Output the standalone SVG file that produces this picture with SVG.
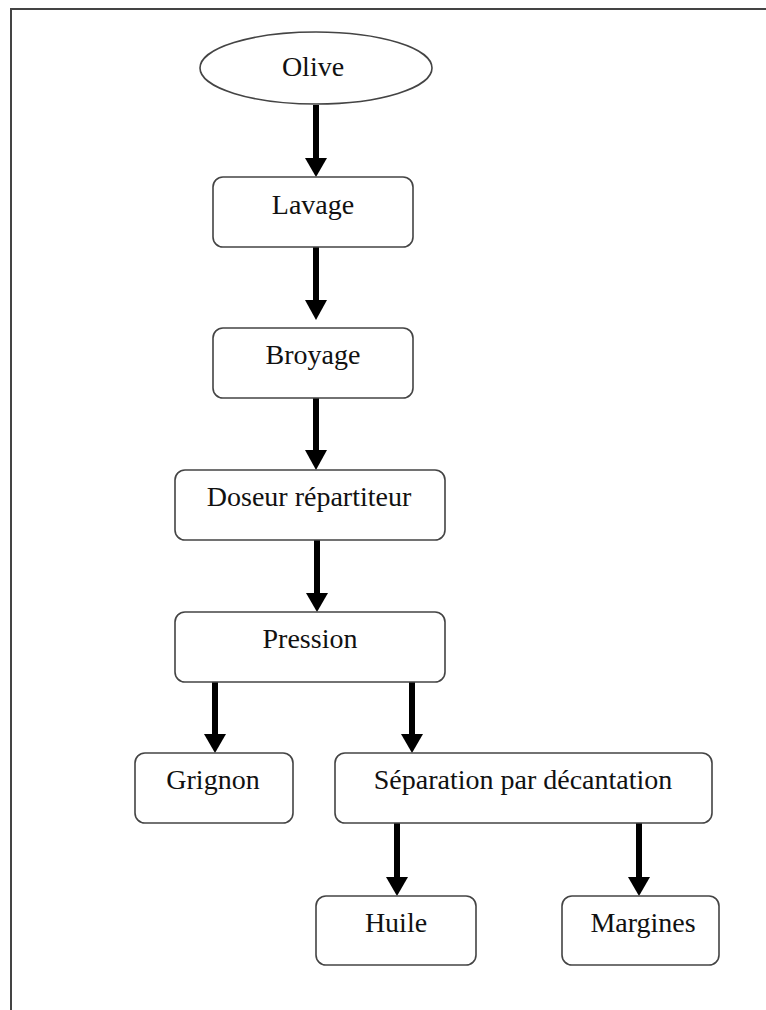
<svg xmlns="http://www.w3.org/2000/svg" width="766" height="1010" viewBox="0 0 766 1010">
<style>
.box{fill:#fff;stroke:#444;stroke-width:1.6}
.t{font-family:"Liberation Serif","Times New Roman",serif;font-size:28px;fill:#111;text-anchor:middle}
.c{stroke:#000;stroke-width:6;fill:none}
.h{fill:#000}
.frame{stroke:#444;stroke-width:2;fill:none}
</style>
<rect width="766" height="1010" fill="#fff"/>
<path class="frame" d="M11 1010 V9 H766"/>
<g id="connectors">
<line class="c" x1="316" y1="105" x2="316" y2="158"/><path class="h" d="M305 158 H327 L316 177 Z"/>
<line class="c" x1="316" y1="247" x2="316" y2="300"/><path class="h" d="M305 300 H327 L316 320 Z"/>
<line class="c" x1="316" y1="398" x2="316" y2="450"/><path class="h" d="M305 450 H327 L316 470 Z"/>
<line class="c" x1="317" y1="540" x2="317" y2="593"/><path class="h" d="M306 593 H328 L317 612 Z"/>
<line class="c" x1="215" y1="682" x2="215" y2="734"/><path class="h" d="M204 734 H226 L215 753 Z"/>
<line class="c" x1="412" y1="682" x2="412" y2="734"/><path class="h" d="M401 734 H423 L412 753 Z"/>
<line class="c" x1="397" y1="823" x2="397" y2="877"/><path class="h" d="M386 877 H408 L397 896 Z"/>
<line class="c" x1="639" y1="823" x2="639" y2="877"/><path class="h" d="M628 877 H650 L639 896 Z"/>
</g>
<g id="olive"><ellipse class="box" cx="316" cy="68" rx="116" ry="36"/><text class="t" x="313" y="76">Olive</text></g>
<g id="lavage"><rect class="box" x="213" y="177" width="200" height="70" rx="10"/><text class="t" x="313" y="214">Lavage</text></g>
<g id="broyage"><rect class="box" x="213" y="328" width="200" height="70" rx="10"/><text class="t" x="313" y="364">Broyage</text></g>
<g id="doseur"><rect class="box" x="175" y="470" width="270" height="70" rx="10"/><text class="t" x="309" y="506">Doseur répartiteur</text></g>
<g id="pression"><rect class="box" x="175" y="612" width="270" height="70" rx="10"/><text class="t" x="310" y="648">Pression</text></g>
<g id="grignon"><rect class="box" x="135" y="753" width="158" height="70" rx="10"/><text class="t" x="213" y="789">Grignon</text></g>
<g id="separation"><rect class="box" x="335" y="753" width="377" height="70" rx="10"/><text class="t" x="523" y="789">Séparation par décantation</text></g>
<g id="huile"><rect class="box" x="316" y="896" width="160" height="69" rx="10"/><text class="t" x="396" y="932">Huile</text></g>
<g id="margines"><rect class="box" x="562" y="896" width="157" height="69" rx="10"/><text class="t" x="643" y="932">Margines</text></g>
</svg>
